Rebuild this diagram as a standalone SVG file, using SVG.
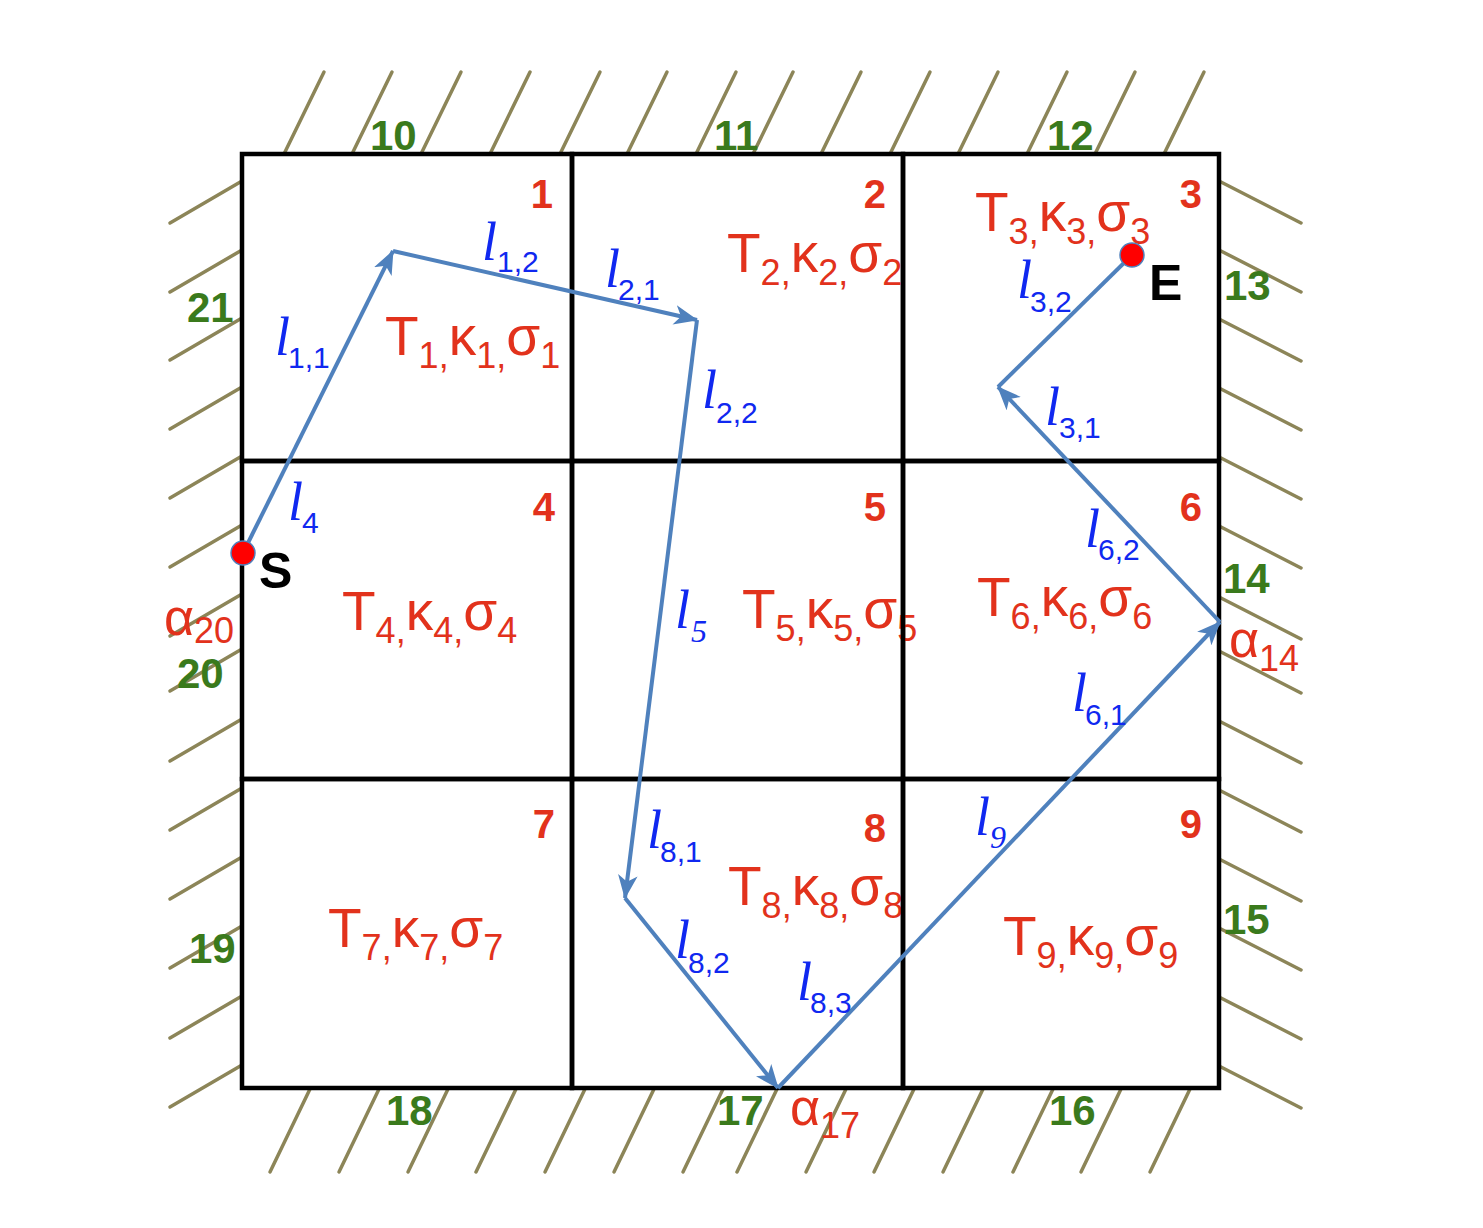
<svg xmlns="http://www.w3.org/2000/svg" width="1483" height="1228" viewBox="0 0 1483 1228">
<style>
.cell{fill:none;stroke:#000;stroke-width:4.5}
.hatch line{stroke:#8c8558;stroke-width:3.5;stroke-linecap:round}
.num{font-family:"Liberation Sans",Arial,sans-serif;font-weight:bold;font-size:40px;fill:#e2321c;text-anchor:end}
.tks{font-family:"Liberation Sans",Arial,sans-serif;font-size:55px;fill:#e2321c}
.tks .s{font-size:36px}
.bnd{font-family:"Liberation Sans",Arial,sans-serif;font-weight:bold;font-size:42px;fill:#3a7a1c}
.alpha{font-family:"Liberation Sans",Arial,sans-serif;font-size:52px;fill:#e2321c}
.alpha .s{font-size:36px}
.l{font-family:"Liberation Serif","Times New Roman",serif;font-style:italic;font-size:54px;fill:#1028f0}
.ls{font-family:"Liberation Sans",Arial,sans-serif;font-style:normal;font-size:30px;fill:#1028f0}
.lsi{font-family:"Liberation Serif","Times New Roman",serif;font-style:italic;font-size:32px;fill:#1028f0}
.pt{font-family:"Liberation Sans",Arial,sans-serif;font-weight:bold;font-size:50px;fill:#000}
.seg{stroke:#4f81bd;stroke-width:4;fill:none}
.dot{fill:#ff0000;stroke:#4f81bd;stroke-width:1.5}
</style>
<defs>
<marker id="arr" viewBox="0 0 22 18" refX="21" refY="9" markerWidth="24" markerHeight="20" markerUnits="userSpaceOnUse" orient="auto">
<path d="M0,0 L22,9 L0,18 L6,9 z" fill="#4f81bd"/>
</marker>
</defs>

<g id="hatching" class="hatch">
<line x1="284" y1="154" x2="324" y2="72"/><line x1="352" y1="154" x2="392" y2="72"/><line x1="421" y1="154" x2="461" y2="72"/><line x1="490" y1="154" x2="530" y2="72"/><line x1="560" y1="154" x2="600" y2="72"/><line x1="627" y1="154" x2="667" y2="72"/><line x1="696" y1="154" x2="736" y2="72"/><line x1="753" y1="154" x2="793" y2="72"/><line x1="821" y1="154" x2="861" y2="72"/><line x1="890" y1="154" x2="930" y2="72"/><line x1="958" y1="154" x2="998" y2="72"/><line x1="1027" y1="154" x2="1067" y2="72"/><line x1="1095" y1="154" x2="1135" y2="72"/><line x1="1164" y1="154" x2="1204" y2="72"/>
<line x1="310" y1="1089" x2="270" y2="1172"/><line x1="379" y1="1089" x2="339" y2="1172"/><line x1="448" y1="1089" x2="408" y2="1172"/><line x1="516" y1="1089" x2="476" y2="1172"/><line x1="585" y1="1089" x2="545" y2="1172"/><line x1="654" y1="1089" x2="614" y2="1172"/><line x1="723" y1="1089" x2="683" y2="1172"/><line x1="777" y1="1089" x2="737" y2="1172"/><line x1="846" y1="1089" x2="806" y2="1172"/><line x1="914" y1="1089" x2="874" y2="1172"/><line x1="983" y1="1089" x2="943" y2="1172"/><line x1="1053" y1="1089" x2="1013" y2="1172"/><line x1="1121" y1="1089" x2="1081" y2="1172"/><line x1="1190" y1="1089" x2="1150" y2="1172"/>
<line x1="242" y1="181" x2="170" y2="223"/><line x1="242" y1="250" x2="170" y2="292"/><line x1="242" y1="318" x2="170" y2="360"/><line x1="242" y1="387" x2="170" y2="429"/><line x1="242" y1="456" x2="170" y2="498"/><line x1="242" y1="525" x2="170" y2="567"/><line x1="242" y1="594" x2="170" y2="636"/><line x1="242" y1="649" x2="170" y2="691"/><line x1="242" y1="719" x2="170" y2="761"/><line x1="242" y1="788" x2="170" y2="830"/><line x1="242" y1="857" x2="170" y2="899"/><line x1="242" y1="926" x2="170" y2="968"/><line x1="242" y1="996" x2="170" y2="1038"/><line x1="242" y1="1065" x2="170" y2="1107"/>
<line x1="1219" y1="181" x2="1301" y2="223"/><line x1="1219" y1="250" x2="1301" y2="292"/><line x1="1219" y1="319" x2="1301" y2="361"/><line x1="1219" y1="388" x2="1301" y2="430"/><line x1="1219" y1="457" x2="1301" y2="499"/><line x1="1219" y1="526" x2="1301" y2="568"/><line x1="1219" y1="597" x2="1301" y2="639"/><line x1="1219" y1="651" x2="1301" y2="693"/><line x1="1219" y1="721" x2="1301" y2="763"/><line x1="1219" y1="790" x2="1301" y2="832"/><line x1="1219" y1="859" x2="1301" y2="901"/><line x1="1219" y1="928" x2="1301" y2="970"/><line x1="1219" y1="997" x2="1301" y2="1039"/><line x1="1219" y1="1066" x2="1301" y2="1108"/>
</g>

<g id="cell-1"><rect class="cell" x="242" y="154" width="330" height="307"/><text class="num" x="553" y="208">1</text>
<text class="tks" x="385" y="355">T<tspan class="s" dy="13">1,</tspan><tspan dy="-13">κ</tspan><tspan class="s" dy="13">1,</tspan><tspan dy="-13">σ</tspan><tspan class="s" dy="13">1</tspan></text></g>
<g id="cell-2"><rect class="cell" x="572" y="154" width="331" height="307"/><text class="num" x="886" y="208">2</text>
<text class="tks" x="727" y="272">T<tspan class="s" dy="13">2,</tspan><tspan dy="-13">κ</tspan><tspan class="s" dy="13">2,</tspan><tspan dy="-13">σ</tspan><tspan class="s" dy="13">2</tspan></text></g>
<g id="cell-3"><rect class="cell" x="903" y="154" width="316" height="307"/><text class="num" x="1202" y="208">3</text>
<text class="tks" x="975" y="231">T<tspan class="s" dy="13">3,</tspan><tspan dy="-13">κ</tspan><tspan class="s" dy="13">3,</tspan><tspan dy="-13">σ</tspan><tspan class="s" dy="13">3</tspan></text></g>
<g id="cell-4"><rect class="cell" x="242" y="461" width="330" height="318"/><text class="num" x="555" y="521">4</text>
<text class="tks" x="342" y="630">T<tspan class="s" dy="13">4,</tspan><tspan dy="-13">κ</tspan><tspan class="s" dy="13">4,</tspan><tspan dy="-13">σ</tspan><tspan class="s" dy="13">4</tspan></text></g>
<g id="cell-5"><rect class="cell" x="572" y="461" width="331" height="318"/><text class="num" x="886" y="521">5</text>
<text class="tks" x="742" y="628">T<tspan class="s" dy="13">5,</tspan><tspan dy="-13">κ</tspan><tspan class="s" dy="13">5,</tspan><tspan dy="-13">σ</tspan><tspan class="s" dy="13">5</tspan></text></g>
<g id="cell-6"><rect class="cell" x="903" y="461" width="316" height="318"/><text class="num" x="1202" y="521">6</text>
<text class="tks" x="977" y="616">T<tspan class="s" dy="13">6,</tspan><tspan dy="-13">κ</tspan><tspan class="s" dy="13">6,</tspan><tspan dy="-13">σ</tspan><tspan class="s" dy="13">6</tspan></text></g>
<g id="cell-7"><rect class="cell" x="242" y="779" width="330" height="309"/><text class="num" x="555" y="838">7</text>
<text class="tks" x="328" y="947">T<tspan class="s" dy="13">7,</tspan><tspan dy="-13">κ</tspan><tspan class="s" dy="13">7,</tspan><tspan dy="-13">σ</tspan><tspan class="s" dy="13">7</tspan></text></g>
<g id="cell-8"><rect class="cell" x="572" y="779" width="331" height="309"/><text class="num" x="886" y="842">8</text>
<text class="tks" x="728" y="905">T<tspan class="s" dy="13">8,</tspan><tspan dy="-13">κ</tspan><tspan class="s" dy="13">8,</tspan><tspan dy="-13">σ</tspan><tspan class="s" dy="13">8</tspan></text></g>
<g id="cell-9"><rect class="cell" x="903" y="779" width="316" height="309"/><text class="num" x="1202" y="838">9</text>
<text class="tks" x="1003" y="955">T<tspan class="s" dy="13">9,</tspan><tspan dy="-13">κ</tspan><tspan class="s" dy="13">9,</tspan><tspan dy="-13">σ</tspan><tspan class="s" dy="13">9</tspan></text></g>

<g id="boundary-labels" class="bnd">
<text x="370" y="150">10</text><text x="714" y="150">11</text><text x="1047" y="150">12</text>
<text x="1224" y="300">13</text><text x="1223" y="593">14</text><text x="1223" y="934">15</text>
<text x="1049" y="1125">16</text><text x="717" y="1125">17</text><text x="386" y="1125">18</text>
<text x="189" y="963">19</text><text x="177" y="688">20</text><text x="187" y="322">21</text>
</g>
<g id="alpha-labels" class="alpha">
<text x="164" y="635">α<tspan class="s" dy="8">20</tspan></text>
<text x="1229" y="657">α<tspan class="s" dy="14">14</tspan></text>
<text x="790" y="1125">α<tspan class="s" dy="13">17</tspan></text>
</g>

<g id="connectors">
<line class="seg" x1="243" y1="553" x2="393" y2="251" marker-end="url(#arr)"/>
<line class="seg" x1="393" y1="251" x2="697" y2="320" marker-end="url(#arr)"/>
<line class="seg" x1="697" y1="320" x2="625" y2="898" marker-end="url(#arr)"/>
<line class="seg" x1="625" y1="898" x2="778" y2="1088" marker-end="url(#arr)"/>
<line class="seg" x1="778" y1="1088" x2="1220" y2="622" marker-end="url(#arr)"/>
<line class="seg" x1="1220" y1="622" x2="998" y2="387" marker-end="url(#arr)"/>
<line class="seg" x1="998" y1="387" x2="1132" y2="255"/>
</g>

<g id="path-labels">
<text class="l" x="275" y="355">l</text><text class="ls" x="288" y="368">1,1</text>
<text class="l" x="482" y="260">l</text><text class="ls" x="497" y="272">1,2</text>
<text class="l" x="605" y="287">l</text><text class="ls" x="618" y="300">2,1</text>
<text class="l" x="702" y="408">l</text><text class="ls" x="716" y="423">2,2</text>
<text class="l" x="1017" y="298">l</text><text class="ls" x="1030" y="312">3,2</text>
<text class="l" x="1045" y="425">l</text><text class="ls" x="1059" y="438">3,1</text>
<text class="l" x="288" y="520">l</text><text class="ls" x="302" y="533">4</text>
<text class="l" x="675" y="628">l</text><text class="lsi" x="691" y="642">5</text>
<text class="l" x="1085" y="547">l</text><text class="ls" x="1098" y="560">6,2</text>
<text class="l" x="1072" y="711">l</text><text class="ls" x="1085" y="725">6,1</text>
<text class="l" x="647" y="848">l</text><text class="ls" x="660" y="862">8,1</text>
<text class="l" x="675" y="958">l</text><text class="ls" x="688" y="973">8,2</text>
<text class="l" x="797" y="1000">l</text><text class="ls" x="810" y="1013">8,3</text>
<text class="l" x="975" y="835">l</text><text class="lsi" x="990" y="848">9</text>
</g>

<g id="point-S"><circle class="dot" cx="243" cy="553" r="12"/><text class="pt" x="259" y="588">S</text></g>
<g id="point-E"><circle class="dot" cx="1132" cy="255" r="12"/><text class="pt" x="1149" y="300">E</text></g>
</svg>
